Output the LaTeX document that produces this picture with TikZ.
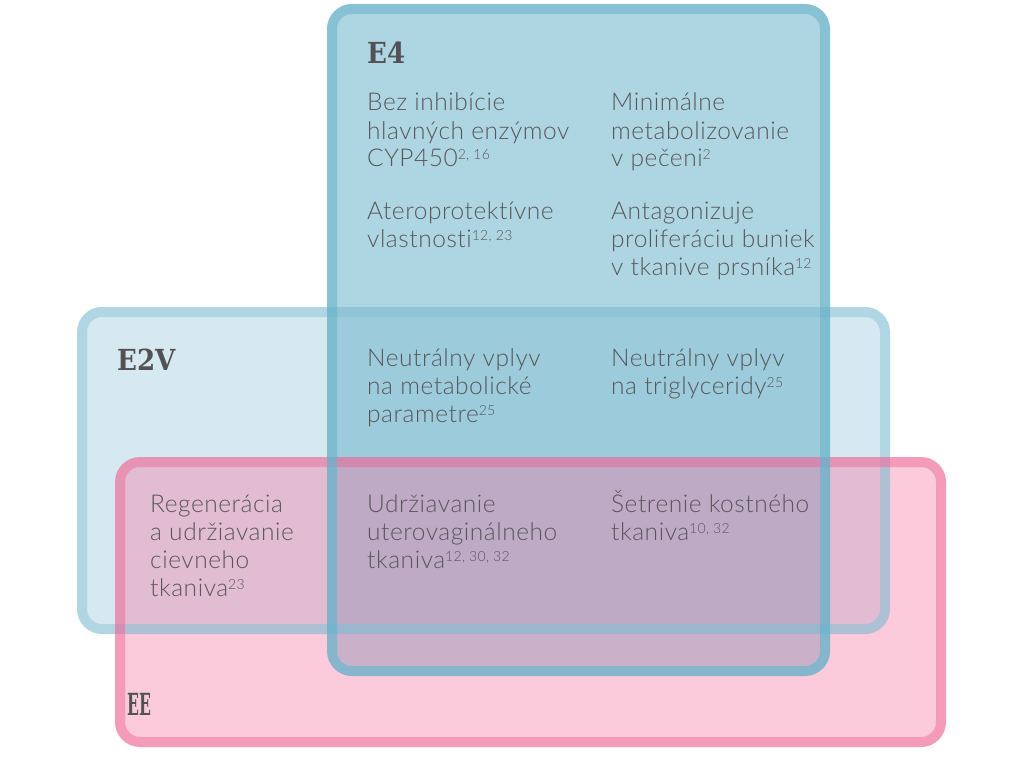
\documentclass[tikz,border=0pt]{standalone}
\usepackage{fontspec}
\setmainfont{Lato Light}[LetterSpace=2.2, Ligatures={NoCommon, NoRare}]
\newfontfamily\headfont{DejaVu Serif Condensed}
\definecolor{txtc}{RGB}{88,88,90}
\definecolor{headc}{RGB}{82,82,84}
\definecolor{etwofill}{RGB}{214,233,240}
\definecolor{efourfill}{RGB}{111,180,204}
\definecolor{eefill}{RGB}{245,122,165}
\definecolor{etwoline}{RGB}{123,187,208}
\definecolor{efourline}{RGB}{104,177,201}
\definecolor{eeline}{RGB}{240,102,149}
\newcommand\rf[1]{\raisebox{7pt}{\fontsize{14}{14}\selectfont #1}}
\tikzset{
  txt/.style={anchor=base west, inner sep=0pt, align=left, text=txtc,
    font=\fontsize{24.5}{28}\selectfont},
  head/.style={anchor=base west, inner sep=0pt, text=headc,
    font=\headfont\bfseries\fontsize{29}{29}\selectfont},
  boxfill/.style={rounded corners=15pt},
  boxline/.style={rounded corners=20pt, line width=10pt},
}
\begin{document}
\begin{tikzpicture}[x=1pt,y=-1pt]
\useasboundingbox (0,0) rectangle (1023,765);
% fills
\fill[boxfill, etwofill] (87,317) rectangle (880,624);
\fill[boxfill, efourfill, opacity=0.56] (337,14) rectangle (820,666);
\fill[boxfill, eefill, opacity=0.4] (125,467) rectangle (936,737);
% borders
\draw[boxline, etwoline, opacity=0.6] (82,312) rectangle (885,629);
\draw[boxline, eeline, opacity=0.65] (120,462) rectangle (941,742);
\draw[boxline, efourline, opacity=0.8] (332,9) rectangle (825,671);
% headings
\node[head] (hE4) at (367,64) {E4};
\node[head] (hE2V) at (117,370) {E2V};
\node[head] (hEE) at (127,715) {\scalebox{0.6}[1.05]{EE}};
% texts (anchor = baseline of the last line)
\node[txt] (a1) at (367,167) {Bez inhibície\\hlavných enzýmov\\CYP450\rf{2, 16}};
\node[txt] (a2) at (611,167) {Minimálne\\metabolizovanie\\v pečeni\rf{2}};
\node[txt] (b1) at (367,247) {Ateroprotektívne\\vlastnosti\rf{12, 23}};
\node[txt] (b2) at (611,275) {Antagonizuje\\proliferáciu buniek\\v tkanive prsníka\rf{12}};
\node[txt] (c1) at (367,422) {Neutrálny vplyv\\na metabolické\\parametre\rf{25}};
\node[txt] (c2) at (611,394) {Neutrálny vplyv\\na triglyceridy\rf{25}};
\node[txt] (d0) at (150,596) {Regenerácia\\a udržiavanie\\cievneho\\tkaniva\rf{23}};
\node[txt] (d1) at (367,568) {Udržiavanie\\uterovaginálneho\\tkaniva\rf{12, 30, 32}};
\node[txt] (d2) at (611,540) {Šetrenie kostného\\tkaniva\rf{10, 32}};
\end{tikzpicture}
\end{document}
